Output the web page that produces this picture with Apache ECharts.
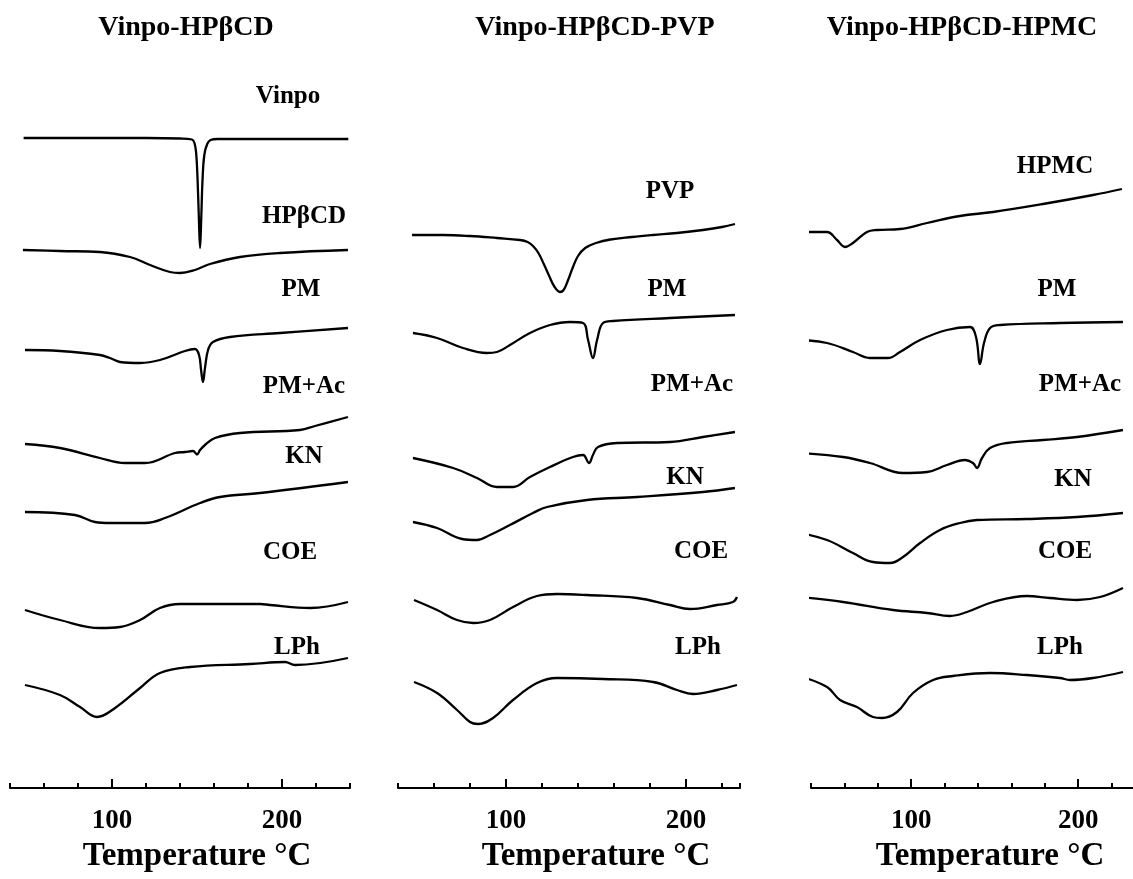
<!DOCTYPE html>
<html>
<head>
<meta charset="utf-8">
<script src="https://cdn.jsdelivr.net/npm/echarts@6/dist/echarts.min.js"></script>
<style>
html,body{margin:0;padding:0;background:#fff;}
#chart{width:1133px;height:879px;}
</style>
</head>
<body>
<div id="chart"></div>
<script>
// ---------------- DATA ----------------
// x = temperature (°C), y = heat flow (arbitrary units, stacked offsets as plotted)
const panelTitles = ['Vinpo-HPβCD', 'Vinpo-HPβCD-PVP', 'Vinpo-HPβCD-HPMC'];
const tickLabelValues = [100, 200];
const axisTitle = 'Temperature °C';

// Panel 1: Vinpo-HPβCD
const p1Names = ['Vinpo', 'HPβCD', 'PM', 'PM+Ac', 'KN', 'COE', 'LPh'];
const p1Vinpo = [[48,65.0],[80,65.0],[120,65.0],[140,64.95],[147,64.85],[148.5,64.5],[149.5,63.5],[150.3,61.0],[151.1,57.0],[151.8,54.0],[152.5,57.0],[153.3,61.0],[154.3,63.3],[156,64.4],[158,64.8],[162,64.9],[200,64.9],[239,64.9]];
const p1HPbCD = [[47.6,53.8],[69.4,53.7],[92.9,53.6],[110.6,53.1],[122.4,52.3],[134.1,51.6],[140,51.5],[148.8,51.8],[157.6,52.4],[175.3,53.1],[198.8,53.5],[238.8,53.8]];
const p1PM = [[48.8,43.8],[69.4,43.7],[92.9,43.3],[98.8,43.0],[104.7,42.6],[116.5,42.5],[128.2,42.8],[142.9,43.7],[148.8,43.9],[151.2,43.3],[152.4,41.8],[153.5,40.6],[154.7,42.0],[156.5,43.8],[159.4,44.6],[169.4,45.1],[198.8,45.5],[238.8,46.0]];
const p1PMAc = [[48.8,34.4],[69.4,34.0],[92.9,33.0],[107.6,32.5],[119.4,32.5],[137.1,33.5],[142.9,33.6],[147.6,33.7],[150,33.35],[151.8,33.8],[154.7,34.3],[160.6,35.0],[175.3,35.5],[210.6,35.8],[219.4,36.2],[238.8,37.1]];
const p1KN = [[48.8,27.6],[78.2,27.3],[90,26.6],[98.8,26.5],[119.4,26.5],[131.2,27.0],[151.8,28.5],[163.5,29.1],[187.1,29.5],[238.8,30.6]];
const p1COE = [[48.8,17.8],[69.4,16.8],[92.9,16.0],[104.7,16.1],[116.5,16.8],[128.2,18.0],[140,18.4],[187.1,18.4],[192.9,18.3],[216.5,18.0],[238.8,18.6]];
const p1LPh = [[48.8,10.3],[69.4,9.3],[81.2,8.1],[91.2,7.1],[101.8,8.0],[116.5,10.0],[128.2,11.5],[145.9,12.1],[181.2,12.4],[201.8,12.6],[207.6,12.3],[238.8,13.0]];

// Panel 2: Vinpo-HPβCD-PVP
const p2Names = ['PVP', 'PM', 'PM+Ac', 'KN', 'COE', 'LPh'];
const p2PVP = [[47.8,55.3],[65,55.3],[80,55.2],[95,55.0],[107.8,54.8],[112,54.6],[115,54.2],[118,53.5],[121,52.4],[124,51.2],[127,50.1],[130,49.6],[132,49.8],[134.5,50.8],[137,52.0],[140,53.2],[144,54.0],[150,54.5],[158,54.85],[170,55.1],[181.7,55.3],[195,55.5],[209.4,55.8],[220,56.1],[227.2,56.4]];
const p2PM = [[48.3,45.5],[61.7,45.0],[76.1,44.0],[89.4,43.5],[95,43.6],[102.2,44.3],[113.3,45.5],[124.4,46.3],[135.6,46.6],[142.8,46.5],[145.6,44.8],[148.3,43.0],[150.6,44.8],[153.9,46.5],[159.4,46.7],[191.1,47.0],[227.2,47.3]];
const p2PMAc = [[48.3,33.0],[70.6,32.0],[83.9,31.0],[95,30.1],[103.9,30.1],[113.3,31.1],[124.4,32.1],[137.2,33.1],[142.8,33.3],[146.1,32.5],[148.3,33.3],[151.1,34.1],[161.7,34.5],[191.1,34.6],[209.4,35.1],[227.2,35.6]];
const p2KN = [[48.3,26.6],[61.7,26.0],[75.6,24.9],[83.9,24.8],[91.1,25.3],[102.2,26.3],[115,27.5],[122.8,28.1],[145,28.8],[172.8,29.1],[209.4,29.6],[227.2,30.0]];
const p2COE = [[48.9,18.8],[61.7,17.8],[72.8,16.8],[81.7,16.5],[91.1,16.8],[103.9,18.1],[117.2,19.2],[128.3,19.4],[145,19.3],[172.8,19.0],[191.1,18.3],[202.2,17.9],[217.2,18.3],[226.1,18.6],[228.3,19.1]];
const p2LPh = [[48.9,10.6],[61.7,9.5],[72.8,7.8],[80,6.6],[84.4,6.4],[92.8,7.0],[103.9,8.8],[117.2,10.5],[128.3,11.0],[153.9,10.9],[181.7,10.6],[195,9.8],[203.9,9.4],[217.2,9.8],[228.3,10.3]];

// Panel 3: Vinpo-HPβCD-HPMC
const p3Names = ['HPMC', 'PM', 'PM+Ac', 'KN', 'COE', 'LPh'];
const p3HPMC = [[33.4,55.6],[49.6,55.6],[55.6,54.8],[60.4,54.1],[65.1,54.5],[73.5,55.6],[79.5,55.8],[93.3,55.9],[109.5,56.5],[129.2,57.2],[149,57.6],[178.9,58.4],[208.9,59.3],[226.2,59.9]];
const p3PM = [[33.4,44.8],[49.6,44.5],[65.1,43.6],[75.3,43.0],[86.1,43.0],[93.3,43.6],[105.3,44.8],[121.4,45.8],[135.2,46.1],[138.8,45.1],[141.2,42.4],[143.6,44.5],[147.2,46.0],[153.2,46.3],[189.1,46.5],[226.8,46.6]];
const p3PMAc = [[33.4,33.5],[59.2,33.1],[75.3,32.5],[95.1,31.5],[109.5,31.6],[121.4,32.3],[132.2,32.8],[137,32.5],[139.4,32.0],[142.4,33.0],[147.2,34.0],[157.4,34.5],[178.9,34.8],[199.3,35.1],[226.8,35.8]];
const p3KN = [[33.4,25.5],[49.6,24.8],[65.1,23.5],[77.1,22.6],[87.3,22.5],[95.1,23.1],[105.3,24.5],[117.2,25.8],[129.2,26.5],[139.4,26.8],[169.3,26.9],[199.3,27.1],[226.8,27.5]];
const p3COE = [[33.4,19.1],[59.2,18.6],[89.1,17.8],[109.5,17.5],[123.2,17.2],[133.4,17.6],[149,18.6],[169.3,19.2],[183.1,19.0],[199.3,18.8],[213.1,19.1],[226.8,20.0]];
const p3LPh = [[34.6,11.1],[49.6,10.1],[57.4,8.8],[67.5,8.1],[77.1,7.1],[82.5,7.0],[91.5,7.6],[101.1,9.5],[113.1,10.8],[125,11.2],[147.2,11.5],[169.3,11.3],[189.1,11.0],[195.1,10.8],[208.9,11.0],[226.8,11.6]];

// ---------------- CHART ----------------
const SERIF = '"Liberation Serif", "Times New Roman", Times, serif';
const panels = [
  { names: p1Names, curves: [p1Vinpo, p1HPbCD, p1PM, p1PMAc, p1KN, p1COE, p1LPh], xMin: 40, xMax: 240, left: 10, width: 340,
    labelPos: [[288,97],[304,217],[301,290],[304,387],[304,457],[290,553],[297,648]], titleX: 186, axisTitlePad: 34 },
  { names: p2Names, curves: [p2PVP, p2PM, p2PMAc, p2KN, p2COE, p2LPh], xMin: 40, xMax: 230, left: 398, width: 342,
    labelPos: [[670,192],[667,290],[692,385],[685,478],[701,552],[698,648]], titleX: 595, axisTitlePad: 54 },
  { names: p3Names, curves: [p3HPMC, p3PM, p3PMAc, p3KN, p3COE, p3LPh], xMin: 40, xMax: 240, left: 811, width: 334,
    labelPos: [[1055,167],[1057,290],[1080,385],[1073,480],[1065,552],[1060,648]], titleX: 962, axisTitlePad: 24 }
];

const grids = [], xAxes = [], yAxes = [], series = [], graphics = [];
panels.forEach((p, i) => {
  grids.push({ left: p.left, width: p.width, top: 100, height: 688, containLabel: false, outerBoundsMode: 'none' });
  // minor ticks every 20 °C + axis line
  xAxes.push({
    type: 'value', gridIndex: i, min: p.xMin, max: p.xMax, interval: 20, position: 'bottom',
    axisLine: { show: true, onZero: false, lineStyle: { color: '#000', width: 2 } },
    axisTick: { show: true, inside: true, length: 5, lineStyle: { color: '#000', width: 2 } },
    axisLabel: { show: false }, splitLine: { show: false }
  });
  // major ticks + labels at 100 and 200
  xAxes.push({
    type: 'value', gridIndex: i, min: p.xMin, max: p.xMax, position: 'bottom',
    axisLine: { show: false, onZero: false },
    axisTick: { show: true, inside: true, length: 9, customValues: tickLabelValues, lineStyle: { color: '#000', width: 2 } },
    axisLabel: { show: true, customValues: tickLabelValues, margin: 20, color: '#000', fontFamily: SERIF, fontWeight: 'bold', fontSize: 27 },
    splitLine: { show: false },
    name: axisTitle, nameLocation: 'middle', nameGap: 44,
    nameTextStyle: { color: '#000', fontFamily: SERIF, fontWeight: 'bold', fontSize: 33, padding: [0, 0, 0, p.axisTitlePad] }
  });
  yAxes.push({ type: 'value', gridIndex: i, min: 0, max: 68.8, show: false, splitLine: { show: false } });
  p.curves.forEach((c, k) => {
    series.push({
      type: 'line', name: p.names[k], xAxisIndex: 2 * i, yAxisIndex: i, data: c,
      showSymbol: false, symbol: 'none', smooth: 0.4, clip: false, silent: true,
      lineStyle: { color: '#000', width: 2.3 }
    });
    graphics.push({
      type: 'text', x: p.labelPos[k][0], y: p.labelPos[k][1],
      style: { text: p.names[k], font: 'bold 25px ' + SERIF, fill: '#000',
               textAlign: 'center', textVerticalAlign: 'middle', align: 'center', verticalAlign: 'middle' }
    });
  });
  graphics.push({
    type: 'text', x: p.titleX, y: 28,
    style: { text: panelTitles[i], font: 'bold 28px ' + SERIF, fill: '#000',
             textAlign: 'center', textVerticalAlign: 'middle', align: 'center', verticalAlign: 'middle' }
  });
});

const chart = echarts.init(document.getElementById('chart'), null, { renderer: 'canvas' });
chart.setOption({
  backgroundColor: '#fff',
  animation: false,
  grid: grids,
  xAxis: xAxes,
  yAxis: yAxes,
  series: series,
  graphic: graphics
});
</script>
</body>
</html>
